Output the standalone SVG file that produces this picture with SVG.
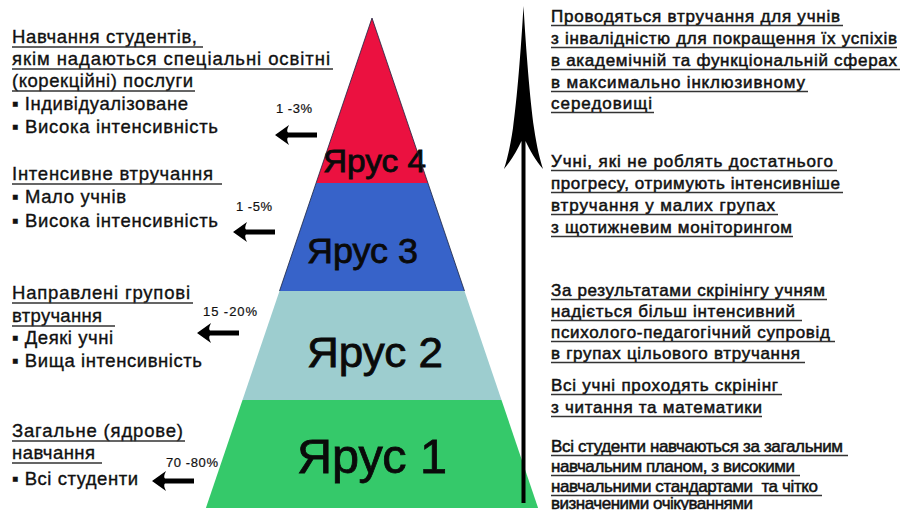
<svg xmlns="http://www.w3.org/2000/svg" width="903" height="510" viewBox="0 0 903 510">
<defs>
<style>
.t{font-family:"Liberation Sans",Arial,"DejaVu Sans",sans-serif;fill:#111}
.l{font-size:18.5px;stroke:#111;stroke-width:0.35}
.r{font-size:17px;stroke:#111;stroke-width:0.5}
.p{font-size:13px;stroke:#111;stroke-width:0.2}
.tier{font-family:"Liberation Sans",Arial,"DejaVu Sans",sans-serif;fill:#0a0a0a;stroke:#0a0a0a;stroke-width:0.8}
.u{stroke:#333;stroke-width:1.3;fill:none}
</style>
<path id="la" d="M0,0 L14,-10 Q11,-4 13,-2.4 L42,-2.4 L42,2.4 L13,2.4 Q11,4 14,10 Z" fill="#000"/>
</defs>
<rect width="903" height="510" fill="#fff"/>

<g id="tier4">
<polygon points="372,18 427.9,183 316.1,183" fill="#EB1140"/>
<text class="tier" x="323" y="172" font-size="31" textLength="103" lengthAdjust="spacingAndGlyphs">Ярус 4</text>
</g>
<g id="tier3">
<polygon points="316.1,183 427.9,183 464.5,291 279.5,291" fill="#3763C9"/>
<text class="tier" x="307" y="263" font-size="35" textLength="111" lengthAdjust="spacingAndGlyphs">Ярус 3</text>
</g>
<g id="tier2">
<polygon points="279.5,291 464.5,291 501.5,400 242.5,400" fill="#9DCDCF"/>
<text class="tier" x="307" y="367" font-size="42" textLength="136" lengthAdjust="spacingAndGlyphs">Ярус 2</text>
</g>
<g id="tier1">
<polygon points="242.5,400 501.5,400 538.1,508 205.9,508" fill="#35C96A"/>
<text class="tier" x="297" y="473" font-size="48" textLength="150" lengthAdjust="spacingAndGlyphs">Ярус 1</text>
</g>
<polyline points="279.5,291 372,18 464.5,291" fill="none" stroke="#1b2340" stroke-width="0.8"/>

<g id="left-tier4" class="t l">
<text x="12" y="43" textLength="185">Навчання студентів,</text>
<text x="12" y="65" textLength="318">якім надаються спеціальні освітні</text>
<text x="12" y="87" textLength="181">(корекційні) послуги</text>
<text x="12" y="110" textLength="176">▪ Індивідуалізоване</text>
<text x="12" y="133" textLength="206">▪ Висока інтенсивність</text>
<path class="u" d="M12,47H203M12,69H333M12,91H195"/>
</g>
<g id="left-tier3" class="t l">
<text x="12" y="180" textLength="201">Інтенсивне втручання</text>
<text x="12" y="203" textLength="114">▪ Мало учнів</text>
<text x="12" y="227" textLength="206">▪ Висока інтенсивність</text>
<path class="u" d="M12,184H222"/>
</g>
<g id="left-tier2" class="t l">
<text x="12" y="299" textLength="178">Направлені групові</text>
<text x="12" y="322" textLength="90">втручання</text>
<text x="12" y="344" textLength="101">▪ Деякі учні</text>
<text x="12" y="367" textLength="190">▪ Вища інтенсивність</text>
<path class="u" d="M12,303H193M12,326H115"/>
</g>
<g id="left-tier1" class="t l">
<text x="12" y="437" textLength="171">Загальне (ядрове)</text>
<text x="12" y="459" textLength="83">навчання</text>
<text x="12" y="485" textLength="126">▪ Всі студенти</text>
<path class="u" d="M12,441H185M12,463H102"/>
</g>

<g id="percent-labels" class="t p">
<text x="276" y="113" textLength="36">1 -3%</text>
<text x="236" y="211" textLength="36">1 -5%</text>
<text x="203" y="316" textLength="54">15 -20%</text>
<text x="166" y="467" textLength="52">70 -80%</text>
</g>

<g id="right-tier4" class="t r">
<text x="551" y="22" textLength="289">Проводяться втручання для учнів</text>
<text x="551" y="44" textLength="346">з інвалідністю для покращення їх успіхів</text>
<text x="551" y="66" textLength="346">в академічній та функціональній сферах</text>
<text x="551" y="88" textLength="254">в максимально інклюзивному</text>
<text x="551" y="109" textLength="101">середовищі</text>
<path class="u" d="M551,25.5H843M551,47.5H897M551,69.5H900M551,91.5H808M551,112.5H654"/>
</g>
<g id="right-tier3" class="t r">
<text x="551" y="167" textLength="282">Учні, які не роблять достатнього</text>
<text x="551" y="189" textLength="289">прогресу, отримують інтенсивніше</text>
<text x="551" y="211" textLength="224">втручання у малих групах</text>
<text x="551" y="233" textLength="241">з щотижневим моніторингом</text>
<path class="u" d="M551,170.5H837M551,192.5H843M551,214.5H778M551,236.5H793"/>
</g>
<g id="right-tier2" class="t r">
<text x="551" y="296" textLength="274">За результатами скрінінгу учням</text>
<text x="551" y="317" textLength="244">надіється більш інтенсивний</text>
<text x="551" y="338" textLength="279">психолого-педагогічний супровід</text>
<text x="551" y="359" textLength="249">в групах цільового втручання</text>
<path class="u" d="M551,299.5H827M551,320.5H802M551,341.5H835M551,362.5H805"/>
</g>
<g id="right-screening" class="t r">
<text x="551" y="391" textLength="227">Всі учні проходять скрінінг</text>
<text x="551" y="413" textLength="211">з читання та математики</text>
<path class="u" d="M551,394.5H782M551,416.5H762"/>
</g>
<g id="right-tier1" class="t r">
<text x="551" y="452" textLength="292">Всі студенти навчаються за загальним</text>
<text x="551" y="472" textLength="244">навчальним планом, з високими</text>
<text x="551" y="492" textLength="267" xml:space="preserve">навчальними стандартами  та чітко</text>
<text x="551" y="509" textLength="202">визначеними очікуваннями</text>
<path class="u" d="M551,455.5H848M551,475.5H800M551,495.5H822"/>
</g>

<g id="connectors">
<use href="#la" x="275" y="135"/>
<use href="#la" x="233" y="232"/>
<use href="#la" x="197" y="333"/>
<use href="#la" x="152" y="481"/>
<path d="M523.5,6 C526,50 530,100 534,128 C537,148 540,160 543,169 C535,160 530,150 525.5,141 L525.5,503 L521.5,503 L521.5,141 C517,150 512,160 504,169 C507,160 510,148 513,128 C517,100 521,50 523.5,6 Z" fill="#000"/>
</g>
</svg>
